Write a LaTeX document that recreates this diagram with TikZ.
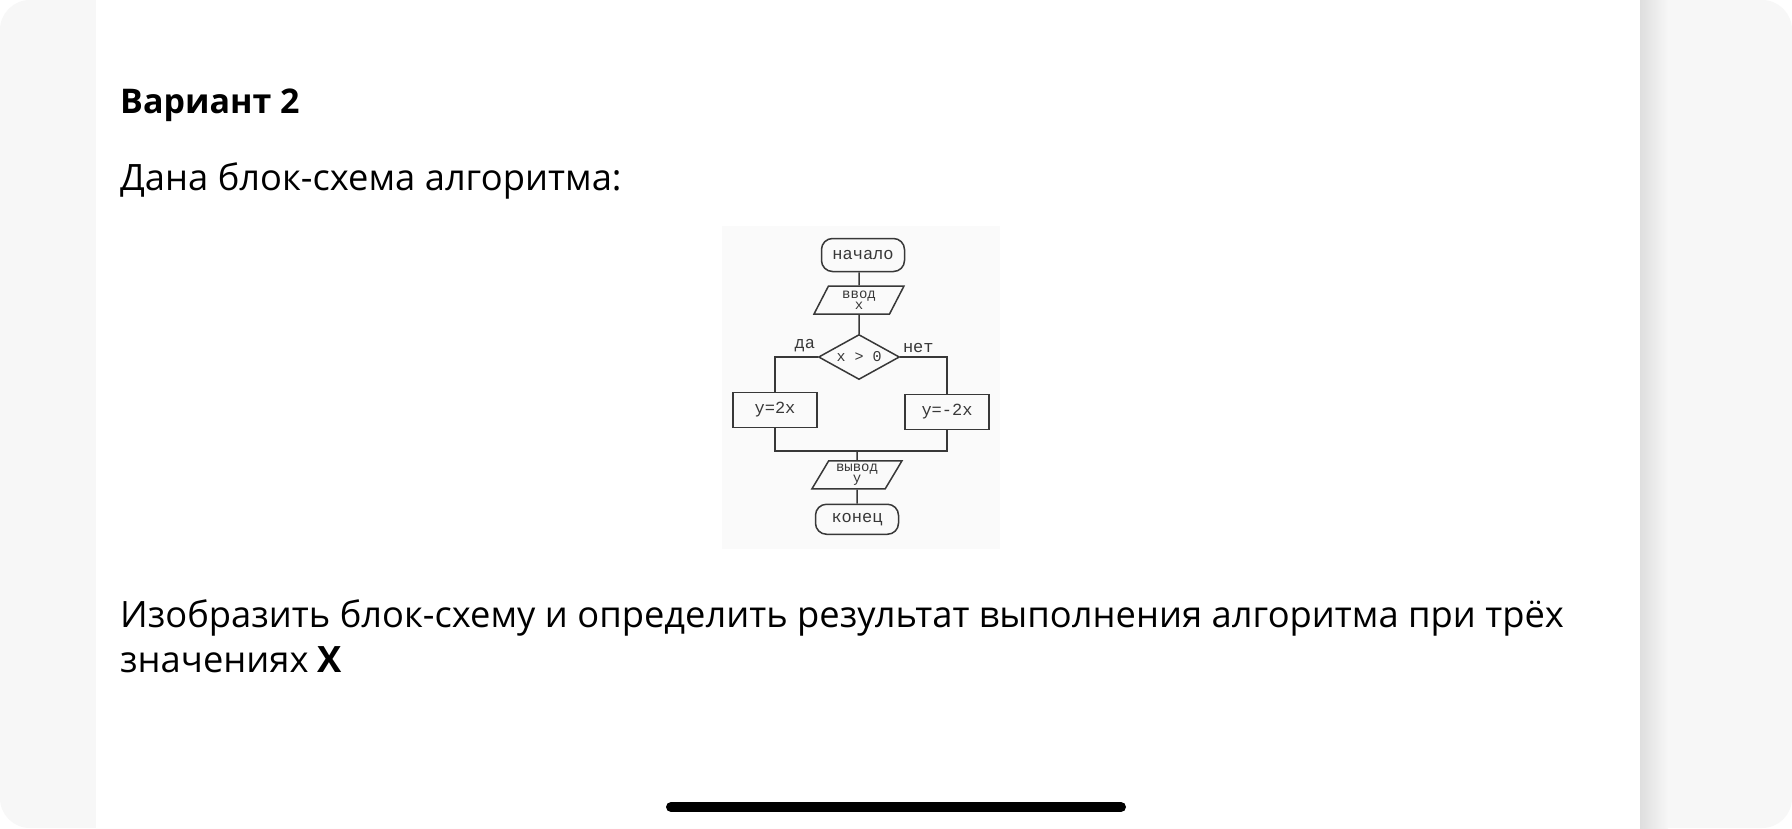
\documentclass[tikz,border=0pt]{standalone}
\usepackage{fontspec}
\setmainfont{Open Sans}
\newfontfamily\flowfont{Liberation Mono}
\usetikzlibrary{positioning, shapes.geometric, calc}
\definecolor{pageGray}{HTML}{F7F7F7}
\definecolor{scanGray}{gray}{0.22}

\begin{document}
\begin{tikzpicture}[x=1pt, y=-1pt,
    body/.style={anchor=base west, inner sep=0pt, font=\fontsize{36.3}{46}\selectfont},
    blk/.style={draw=scanGray, line width=1.5pt, text=scanGray, inner sep=0pt,
        font=\flowfont\fontsize{17}{12}\selectfont},
    term/.style={blk, rectangle, rounded corners=11pt, minimum width=83pt, minimum height=33pt},
    io/.style={blk, trapezium, trapezium left angle=52, trapezium right angle=128,
        trapezium stretches body=true, minimum width=90pt, minimum height=28pt,
        align=center, font=\flowfont\fontsize{14}{11}\selectfont},
    cond/.style={blk, diamond, aspect=2, minimum width=81pt, minimum height=45pt,
        font=\flowfont\fontsize{15}{12}\selectfont},
    proc/.style={blk, rectangle, minimum width=84pt, minimum height=35pt},
    conn/.style={draw=scanGray, line width=1.5pt},
    lbl/.style={inner sep=1pt, text=scanGray, font=\flowfont\fontsize{17}{12}\selectfont}]

    % page and card
    \fill[white] (0,0) rectangle (1792,828);
    \fill[pageGray, rounded corners=30pt] (0,0) rectangle (1792,828);
    \shade[left color=black!13, right color=pageGray] (1640,0) rectangle (1668,828);
    \fill[white] (96,0) rectangle (1640,828);
    \fill[black!2] (722,226) rectangle (1000,549);

    % texts
    \node[body, font=\bfseries\fontsize{34}{40}\selectfont] (title) at (120,113) {Вариант 2};
    \node[body] (given) at (120,190) {Дана блок-схема алгоритма:};
    \node[body] (task) at (120,627) {Изобразить блок-схему и определить результат выполнения алгоритма при трёх};
    \node[body] (task2) at (120,672) {значениях \textbf{X}};

    % flowchart
    \node[term] (start) at (863,255) {начало};
    \node[io, below=13pt of start, xshift=-4pt] (input) {ввод\\x};
    \node[cond, below=19pt of input] (dec) {x > 0};
    \node[proc] (yes) at (775,410) {y=2x};
    \node[proc] (no) at (947,412) {y=-2x};
    \coordinate (join) at (857,451);
    \node[io, below=9pt of join] (output) {вывод\\y};
    \node[term, below=14pt of output, minimum height=30pt] (stop) {конец};

    \draw[conn] (start.south -| input) -- (input);
    \draw[conn] (input) -- (dec);
    \draw[conn] (dec.west) node[lbl, above left=3pt and 1pt] {да} -| (yes.north);
    \draw[conn] (dec.east) node[lbl, above right=3pt and 1pt] {нет} -| (no.north);
    \draw[conn] (yes.south) |- (join) -| (no.south);
    \draw[conn] (join) -- (output);
    \draw[conn] (output) -- (stop);

    % home bar
    \draw[line width=10pt, line cap=round] (671,807) -- (1121,807);
\end{tikzpicture}
\end{document}
